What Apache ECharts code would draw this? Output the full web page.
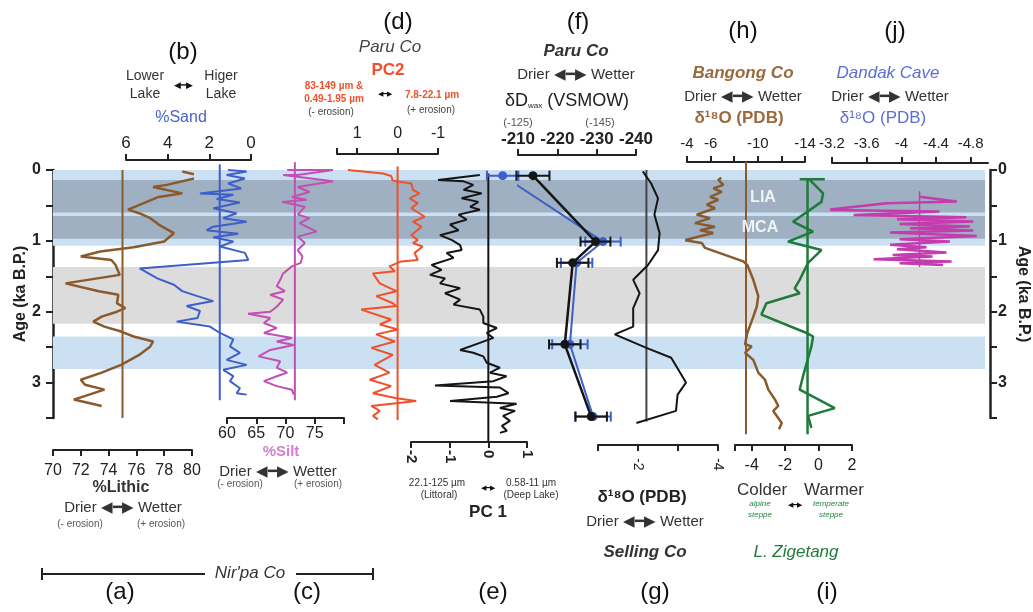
<!DOCTYPE html>
<html><head><meta charset="utf-8">
<script src="https://cdn.jsdelivr.net/npm/echarts@6/dist/echarts.min.js"></script>
<style>html,body{margin:0;padding:0;background:#fff}#c{width:1033px;height:612px}</style>
</head><body><div id="c"></div>
<script>
// ---------------- DATA ----------------
const ageTicks = [0, 0.5, 1, 1.5, 2, 2.5, 3, 3.5];
const bandLight = [[0, 1.07], [2.35, 2.81]];
const bandDark = [[0.14, 0.6], [0.65, 0.97]];
const bandGray = [[1.37, 2.17]];

// (a) %Lithic, Nir'pa Co
const lithicAge = [0.02,0.09,0.21,0.24,0.33,0.38,0.56,0.61,0.68,0.77,0.89,1.01,1.09,1.15,1.22,1.27,1.34,1.48,1.60,1.71,1.76,1.88,1.95,2.00,2.07,2.14,2.21,2.28,2.35,2.42,2.49,2.61,2.75,2.86,2.96,3.03,3.10,3.24,3.33];
const lithicVal = [79.3,80.8,78.2,77.2,79.3,77.6,75.4,76.2,77.0,77.6,78.7,78.0,75.8,73.4,72.0,74.2,74.5,74.8,70.9,73.3,74.7,74.6,75.2,74.6,73.5,72.9,73.7,74.9,75.8,77.2,77.0,76.2,74.9,73.5,72.0,72.3,73.7,71.5,73.5];
const lithicMean = 75;

// (b) %Sand
const sandAge = [0.0,0.02,0.07,0.12,0.19,0.26,0.33,0.35,0.41,0.46,0.54,0.61,0.68,0.73,0.80,0.85,0.90,0.95,1.01,1.08,1.17,1.27,1.39,1.53,1.62,1.71,1.78,1.85,1.92,1.99,2.09,2.14,2.21,2.30,2.39,2.49,2.58,2.68,2.75,2.82,2.91,2.98,3.08,3.15,3.17];
const sandVal = [1.1,0.21,1.17,0.29,1.1,0.47,2.45,0.85,1.65,0.53,1.81,0.69,1.33,0.21,1.81,2.13,0.61,1.81,0.85,1.49,0.29,0.13,5.34,4.5,3.7,3.3,2.57,1.81,3.09,2.45,2.57,3.57,1.97,1.49,0.85,1.01,0.53,1.17,0.21,1.33,0.85,1.01,0.53,0.69,0.21];
const sandMean = 1.5;

// (c) %Silt
const siltAge = [0.0,0.0,0.07,0.07,0.16,0.24,0.31,0.38,0.42,0.45,0.52,0.63,0.68,0.75,0.87,0.94,1.03,1.13,1.22,1.31,1.36,1.46,1.55,1.64,1.71,1.76,1.83,1.93,2.0,2.03,2.09,2.16,2.23,2.30,2.37,2.42,2.47,2.54,2.63,2.70,2.79,2.86,2.91,2.98,3.05,3.10,3.17];
const siltVal = [70.3,78.1,72.1,69.6,78.1,72.1,74.1,71.1,73.6,69.4,73.3,72.1,74.1,72.4,75.3,72.1,73.3,72.1,72.9,72.6,71.1,69.6,69.1,68.5,69.9,67.4,69.6,68.5,67.4,63.6,67.4,66.3,68.5,66.3,71.1,68.5,71.4,67.4,65.4,69.1,68.5,70.3,68.5,66.3,68.5,71.1,71.4];
const siltMean = 71.6;

// (d) PC2, Paru Co
const pc2Age = [0.0,0.05,0.085,0.15,0.19,0.28,0.33,0.40,0.47,0.54,0.66,0.73,0.80,0.92,0.99,1.03,1.08,1.17,1.27,1.29,1.36,1.43,1.46,1.60,1.71,1.78,1.88,1.92,1.97,2.11,2.18,2.25,2.32,2.42,2.51,2.61,2.75,2.86,2.96,3.05,3.15,3.22,3.26,3.33,3.40,3.47,3.52];
const pc2Val = [1.23,0.36,0.16,0.12,-0.34,-0.38,-0.54,-0.30,-0.50,-0.34,-0.67,-0.38,-0.59,-0.34,-0.50,-0.38,-0.62,-0.42,-0.50,-0.09,0.20,0.07,0.61,0.44,0.03,0.53,0.12,0.03,0.90,0.16,0.44,-0.01,0.53,0.07,0.65,0.12,0.57,0.20,0.69,0.16,0.61,0.03,-0.46,0.65,0.44,0.61,0.49];

// (e) PC 1
const pc1Age = [0.07,0.14,0.16,0.21,0.28,0.33,0.40,0.45,0.52,0.56,0.63,0.70,0.77,0.85,0.92,0.99,1.06,1.13,1.17,1.24,1.34,1.41,1.48,1.53,1.60,1.67,1.74,1.83,1.90,1.97,2.07,2.16,2.23,2.30,2.37,2.44,2.54,2.58,2.63,2.72,2.79,2.86,2.91,2.98,3.04,3.07,3.15,3.20,3.26,3.30,3.36,3.40,3.47,3.54,3.61,3.68,3.71];
const pc1Val = [-0.22,-1.3,-0.64,-0.39,-0.64,-0.17,-0.69,-0.26,-0.47,-0.22,-0.77,-0.56,-0.99,-0.77,-1.25,-0.94,-0.73,-0.69,-1.08,-0.90,-1.47,-1.21,-1.51,-1.12,-1.25,-0.73,-1.12,-0.73,-0.90,-0.22,-0.13,-0.13,0.22,-0.04,0.13,-0.22,-0.73,-0.39,-0.13,-0.04,0.30,0.04,0.47,0.13,-1.38,0.30,0.52,0.22,-0.99,0.73,0.30,0.69,0.38,0.56,0.35,0.48,0.30];

// (f) dD wax, Paru Co
const dDAge = [0.08, 1.01, 1.31, 2.46, 3.48];
const dDBlack = [-213.8, -229.7, -223.9, -221.9, -228.6];
const dDBlue = [-121.1, -146.6, -139.9, -138.2, -144.1];
const dDErrBlack = [4.2, 3.8, 4.0, 4.0, 4.0];
const dDErrBlue = [4.0, 4.5, 4.0, 4.5, 4.5];

// (g) d18O Selling Co
const sellAge = [0.02,0.19,0.40,0.63,0.89,1.13,1.34,1.55,1.74,1.95,2.21,2.32,2.51,2.65,3.00,3.17,3.40,3.57];
const sellVal = [-2.12,-2.33,-2.50,-2.41,-2.54,-2.50,-2.25,-1.88,-2.04,-1.88,-1.88,-1.42,-2.21,-2.83,-3.20,-2.99,-2.95,-1.96];
const sellMean = -2.21;

// (h) d18O Bangong Co
const bangAge = [0.11,0.14,0.21,0.26,0.31,0.38,0.42,0.49,0.54,0.63,0.68,0.75,0.80,0.85,0.89,0.99,1.03,1.10,1.29,1.34,1.55,1.78,1.93,2.07,2.30,2.46,2.49,2.58,2.68,2.86,2.96,3.10,3.24,3.33,3.40,3.57,3.66];
const bangVal = [-6.9,-6.65,-7.08,-6.23,-6.94,-5.95,-6.65,-5.67,-6.37,-4.82,-5.95,-4.68,-6.37,-5.10,-6.23,-3.83,-5.25,-5.53,-8.77,-9.11,-9.62,-10.04,-9.91,-9.62,-9.11,-8.92,-9.48,-8.92,-9.62,-10.04,-10.61,-10.89,-11.46,-11.74,-11.31,-12.03,-11.8];
const bangMean = -9.0;

// (i) L. Zigetang temperature
const zigAge = [0.13,0.33,0.45,0.73,0.87,1.01,1.13,1.31,1.55,1.67,1.74,1.88,2.04,2.30,2.35,2.49,2.91,3.10,3.36,3.47,3.64];
const zigVal = [-0.57,0.27,0.17,-1.53,-0.33,-1.83,0.17,-0.63,-1.13,-1.43,-1.13,-3.12,-3.42,-0.72,-0.33,-0.43,-0.93,-1.13,0.97,-0.63,-0.43];
const zigCap = [-1.13, 0.37];
const zigCapAge = 0.13;
const zigMean = -0.66;

// (j) d18O Dandak Cave
const dandAge = [0.376,0.446,0.47,0.563,0.587,0.634,0.667,0.695,0.728,0.761,0.798,0.822,0.855,0.883,0.93,0.977,1.01,1.056,1.089,1.117,1.165,1.2,1.22,1.258,1.29,1.315,1.34];
const dandVal = [-4.21,-4.64,-3.83,-3.14,-4.44,-3.45,-4.75,-3.95,-4.83,-3.98,-4.79,-4.10,-4.83,-3.87,-4.87,-3.98,-4.56,-3.87,-4.29,-3.95,-4.52,-3.90,-4.36,-3.68,-4.58,-3.98,-4.48];
const dandMean = -4.21;

// tick labels
const tkA = [70,72,74,76,78,80];
const tkB = [0,2,4,6];
const tkC = [60,65,70,75,80], lbC = [60,65,70,75];
const tkD = [1.5,1,0,-1], lbD = [1,0,-1];
const tkE = [-2,-1,0,1];
const tkF = [-210,-220,-230,-240];
const tkG = [-1,-2,-3,-4], lbG = [-2,-4];
const tkH = [-4,-6,-8,-10,-12,-14], lbH = [-4,-6,-10,-14];
const tkI = [-5,-4,-2,0,2], lbI = [-4,-2,0,2];
const tkJ = [-3.2,-3.6,-4,-4.4,-4.8];

// ---------------- CHART ----------------
const FONT = 'Liberation Sans, Arial, Helvetica, sans-serif';
const zip = (v, a) => v.map((x, i) => [x, a[i]]);
const TOP = 170, H = 248;
const C = {brown:'#8a5a2c', blue:'#3f5fc8', mag:'#c24fb3', red:'#f0502a', black:'#151515', green:'#1f7a3c', jmag:'#c43cae', gray:'#444'};

const panels = [
  {left:53, width:932},   // 0 background
  {left:53, width:139},   // a
  {left:126, width:125},  // b
  {left:227, width:117},  // c
  {left:337, width:101},  // d
  {left:411, width:116},  // e
  {left:518, width:118},  // f
  {left:598, width:120},  // g
  {left:687, width:118},  // h
  {left:735, width:117},  // i
  {left:832, width:156}   // j
];
const grid = panels.map(p => ({left:p.left, width:p.width, top:TOP, height:H, containLabel:false, outerBoundsMode:'none'}));

const lineS = {color:'#222', width:2};
function xax(g, o) {
  return {
    gridIndex:g, type:'value', splitLine:{show:false},
    axisLine:{show:true, onZero:false, lineStyle:lineS},
    axisTick:{show:true, length:6, lineStyle:lineS, customValues:o.ticks},
    axisLabel:{show:true, color:'#222', fontFamily:FONT, fontSize:o.fs||16, fontWeight:o.fw||'normal',
      margin:o.margin||8, rotate:o.rotate||0, customValues:o.labels||o.ticks},
    position:o.pos, offset:o.offset||0, min:o.min, max:o.max, inverse:!!o.inv
  };
}
const xAxis = [
  {gridIndex:0, type:'value', min:0, max:1, show:false},
  xax(1,{pos:'bottom', offset:32, min:70, max:80, ticks:tkA, margin:13, fs:16}),
  xax(2,{pos:'top', offset:10, min:0, max:6, inv:true, ticks:tkB, margin:8, fs:17}),
  xax(3,{pos:'bottom', offset:0, min:60, max:80, ticks:tkC, labels:lbC, margin:8, fs:16}),
  xax(4,{pos:'top', offset:16, min:-1, max:1.5, inv:true, ticks:tkD, labels:lbD, margin:12, fs:16}),
  xax(5,{pos:'bottom', offset:24, min:-2, max:1, ticks:tkE, margin:8, fs:15, fw:'bold', rotate:-90}),
  xax(6,{pos:'top', offset:15, min:-240, max:-210, inv:true, ticks:tkF, margin:7, fs:17, fw:'bold'}),
  xax(7,{pos:'bottom', offset:27, min:-4, max:-1, inv:true, ticks:tkG, labels:lbG, margin:13, fs:14, rotate:-90}),
  xax(8,{pos:'top', offset:8, min:-14, max:-4, inv:true, ticks:tkH, labels:lbH, margin:11, fs:15}),
  xax(9,{pos:'bottom', offset:27, min:-5, max:2, ticks:tkI, labels:lbI, margin:13, fs:16}),
  xax(10,{pos:'top', offset:7, min:-5, max:-3.2, inv:true, ticks:tkJ, margin:12, fs:15}),
  {gridIndex:6, type:'value', min:-155, max:-125, inverse:true, show:false}
];

const yBase = {type:'value', min:0, max:3.5, inverse:true, splitLine:{show:false}};
const yAxis = [
  Object.assign({}, yBase, {gridIndex:0, position:'left', offset:3,
    axisLine:{show:true, lineStyle:{color:'#222', width:2.5}},
    axisTick:{show:true, length:7, lineStyle:{color:'#222', width:2}, customValues:ageTicks},
    axisLabel:{color:'#222', fontFamily:FONT, fontSize:16, fontWeight:'bold', margin:9, customValues:[0,1,2,3]},
    name:'Age (ka B.P.)', nameLocation:'middle', nameRotate:90, nameGap:21, nameMoveOverlap:false,
    nameTextStyle:{fontFamily:FONT, fontSize:16, fontWeight:'bold', color:'#222'}}),
  Object.assign({}, yBase, {gridIndex:0, position:'right', offset:5,
    axisLine:{show:true, lineStyle:{color:'#222', width:2.5}},
    axisTick:{show:true, length:7, lineStyle:{color:'#222', width:2}, customValues:ageTicks},
    axisLabel:{color:'#222', fontFamily:FONT, fontSize:16, fontWeight:'bold', margin:8, customValues:[0,1,2,3]},
    name:'Age (ka B.P.)', nameLocation:'middle', nameRotate:-90, nameGap:25, nameMoveOverlap:false,
    nameTextStyle:{fontFamily:FONT, fontSize:16, fontWeight:'bold', color:'#222'}})
];
for (let g = 1; g <= 10; g++) yAxis.push(Object.assign({}, yBase, {gridIndex:g, show:false}));

function band(list, color) {
  return list.map(b => [{xAxis:0, yAxis:b[0], itemStyle:{color}}, {xAxis:1, yAxis:b[1]}]);
}
function L(g, data, color, w, extra) {
  return Object.assign({type:'line', xAxisIndex:g, yAxisIndex:g+1, data, symbol:'none', clip:false,
    lineStyle:{color, width:w||2}, itemStyle:{color}, z:5, animation:false, silent:true}, extra||{});
}
function vline(g, v, a0, a1, color, w) { return L(g, [[v, a0], [v, a1]], color, w || 2, {z:4}); }
function errBars(xi, yi, vals, ages, errs, color) {
  return {type:'custom', xAxisIndex:xi, yAxisIndex:yi, clip:false, z:6, animation:false, silent:true,
    data: vals.map((v, i) => [v, ages[i], errs[i]]),
    renderItem: (params, api) => {
      const v = api.value(0), a = api.value(1), e = api.value(2);
      const p1 = api.coord([v - e, a]), p2 = api.coord([v + e, a]), h = 5;
      const st = {stroke:color, lineWidth:2};
      return {type:'group', children:[
        {type:'line', shape:{x1:p1[0], y1:p1[1], x2:p2[0], y2:p2[1]}, style:st},
        {type:'line', shape:{x1:p1[0], y1:p1[1]-h, x2:p1[0], y2:p1[1]+h}, style:st},
        {type:'line', shape:{x1:p2[0], y1:p2[1]-h, x2:p2[0], y2:p2[1]+h}, style:st}
      ]};
    }};
}

const series = [
  {type:'line', xAxisIndex:0, yAxisIndex:0, data:[[0,0]], symbol:'none', lineStyle:{opacity:0}, z:0, silent:true,
   markArea:{silent:true, data:[].concat(band(bandLight, '#cbe0f2'), band(bandGray, '#dcdcdc'), band(bandDark, '#9eb0c1'))}},
  vline(1, lithicMean, 0, 3.5, C.brown, 2),
  L(1, zip(lithicVal, lithicAge), C.brown, 2.5),
  vline(2, sandMean, -0.08, 3.25, C.blue, 2),
  L(2, zip(sandVal, sandAge), C.blue, 2),
  vline(3, siltMean, -0.11, 3.25, C.mag, 2),
  L(3, zip(siltVal, siltAge), C.mag, 2),
  vline(4, 0, -0.05, 3.53, C.red, 2),
  L(4, zip(pc2Val, pc2Age), C.red, 2),
  vline(5, 0, 0.05, 3.83, C.black, 2),
  L(5, zip(pc1Val, pc1Age), C.black, 2),
  errBars(11, 7, dDBlue, dDAge, dDErrBlue, C.blue),
  L(11, zip(dDBlue, dDAge), C.blue, 2, {symbol:'circle', symbolSize:9, xAxisIndex:11, yAxisIndex:7}),
  errBars(6, 7, dDBlack, dDAge, dDErrBlack, C.black),
  L(6, zip(dDBlack, dDAge), C.black, 2.5, {symbol:'circle', symbolSize:9, z:7}),
  vline(7, sellMean, 0.0, 3.55, C.gray, 2),
  L(7, zip(sellVal, sellAge), C.black, 2),
  vline(8, bangMean, -0.12, 3.73, C.brown, 2),
  L(8, zip(bangVal, bangAge), C.brown, 2.5),
  vline(9, zigMean, zigCapAge, 3.73, C.green, 2.5),
  L(9, [[zigCap[0], zigCapAge], [zigCap[1], zigCapAge]], C.green, 2.5),
  L(9, zip(zigVal, zigAge), C.green, 2.5),
  vline(10, dandMean, 0.3, 1.37, C.jmag, 1.5),
  L(10, zip(dandVal, dandAge), C.jmag, 2.5)
];

function T(x, y, text, size, o) {
  o = o || {};
  return {type:'text', x, y, z:100, silent:true,
    style:Object.assign({text, fontFamily:FONT, fontSize:size, fill:'#333', align:'center', verticalAlign:'middle'}, o)};
}
const ARW = '\u25C0\u2501\u25B6';
const it = {fontStyle:'italic'};
const graphic = [
  T(183, 52, '(b)', 24, {fill:'#111'}), T(398, 22, '(d)', 24, {fill:'#111'}), T(578, 22, '(f)', 24, {fill:'#111'}),
  T(743, 31, '(h)', 24, {fill:'#111'}), T(895, 31, '(j)', 24, {fill:'#111'}),
  T(120, 592, '(a)', 24, {fill:'#111'}), T(307, 592, '(c)', 24, {fill:'#111'}), T(493, 592, '(e)', 24, {fill:'#111'}),
  T(655, 592, '(g)', 24, {fill:'#111'}), T(827, 592, '(i)', 24, {fill:'#111'}),
  T(145, 76, 'Lower', 14), T(145, 94, 'Lake', 14), T(183, 86, ARW, 9, {fill:'#111'}),
  T(221, 76, 'Higer', 14), T(221, 94, 'Lake', 14),
  T(181, 118, '%Sand', 16, {fill:'#4a63c8'}),
  T(390, 47, 'Paru Co', 17, Object.assign({fill:'#444'}, it)),
  T(388, 70, 'PC2', 17, {fill:'#f0502a', fontWeight:'bold'}),
  T(334, 86, '83-149 \u00B5m &', 10, {fill:'#f0502a', fontWeight:'bold'}),
  T(334, 99, '0.49-1.95 \u00B5m', 10, {fill:'#f0502a', fontWeight:'bold'}),
  T(331, 112, '(- erosion)', 10, {fill:'#444'}),
  T(385, 94, ARW, 7, {fill:'#111'}),
  T(432, 95, '7.8-22.1 \u00B5m', 10, {fill:'#f0502a', fontWeight:'bold'}),
  T(431, 110, '(+ erosion)', 10, {fill:'#444'}),
  T(576, 51, 'Paru Co', 17, {fill:'#333', fontStyle:'italic', fontWeight:'bold'}),
  T(576, 75, 'Drier ' + ARW + ' Wetter', 15),
  T(567, 101, '{a|\u03B4D}{s|wax}{a| (VSMOW)}', 18, {rich:{a:{fontSize:18, fontFamily:FONT, fill:'#222'}, s:{fontSize:8, fontFamily:FONT, fill:'#222', padding:[10,0,0,0]}}}),
  T(518, 123, '(-125)', 11, {fill:'#555'}), T(600, 123, '(-145)', 11, {fill:'#555'}),
  T(743, 73, 'Bangong Co', 17, {fill:'#9a6a3e', fontStyle:'italic', fontWeight:'bold'}),
  T(743, 97, 'Drier ' + ARW + ' Wetter', 15),
  T(739, 118, '\u03B4\u00B9\u2078O (PDB)', 17, {fill:'#9a6a3e', fontWeight:'bold'}),
  T(888, 73, 'Dandak Cave', 17, {fill:'#5a6fd0', fontStyle:'italic'}),
  T(890, 97, 'Drier ' + ARW + ' Wetter', 15),
  T(883, 118, '\u03B4\u00B9\u2078O (PDB)', 17, {fill:'#5a6fd0'}),
  T(121, 488, '%Lithic', 16, {fill:'#333', fontWeight:'bold'}),
  T(123, 508, 'Drier ' + ARW + ' Wetter', 15),
  T(80, 524, '(- erosion)', 10, {fill:'#555'}), T(161, 524, '(+ erosion)', 10, {fill:'#555'}),
  T(281, 452, '%Silt', 15, {fill:'#d37fcf', fontWeight:'bold'}),
  T(278, 472, 'Drier ' + ARW + ' Wetter', 15),
  T(240, 484, '(- erosion)', 10, {fill:'#555'}), T(318, 484, '(+ erosion)', 10, {fill:'#555'}),
  T(437, 483, '22.1-125 \u00B5m', 10, {fill:'#333'}), T(439, 495, '(Littoral)', 10, {fill:'#333'}),
  T(488, 488, ARW, 7, {fill:'#111'}),
  T(531, 483, '0.58-11 \u00B5m', 10, {fill:'#333'}), T(531, 495, '(Deep Lake)', 10, {fill:'#333'}),
  T(488, 512, 'PC 1', 17, {fill:'#222', fontWeight:'bold'}),
  T(642, 497, '\u03B4\u00B9\u2078O (PDB)', 17, {fill:'#222', fontWeight:'bold'}),
  T(645, 522, 'Drier ' + ARW + ' Wetter', 15),
  T(645, 552, 'Selling Co', 17, {fill:'#333', fontStyle:'italic', fontWeight:'bold'}),
  T(762, 490, 'Colder', 17), T(834, 490, 'Warmer', 17),
  T(760, 504, 'alpine', 8, {fill:'#1f8a3c', fontStyle:'italic'}), T(760, 515, 'steppe', 8, {fill:'#1f8a3c', fontStyle:'italic'}),
  T(795, 505, ARW, 7, {fill:'#111'}),
  T(831, 504, 'temperate', 8, {fill:'#1f8a3c', fontStyle:'italic'}), T(831, 515, 'steppe', 8, {fill:'#1f8a3c', fontStyle:'italic'}),
  T(796, 552, 'L. Zigetang', 17, {fill:'#1f7a3c', fontStyle:'italic'}),
  T(250, 573, "Nir'pa Co", 17, {fill:'#333', fontStyle:'italic'}),
  {type:'line', shape:{x1:42, y1:574, x2:205, y2:574}, style:{stroke:'#222', lineWidth:2}},
  {type:'line', shape:{x1:296, y1:574, x2:373, y2:574}, style:{stroke:'#222', lineWidth:2}},
  {type:'line', shape:{x1:42, y1:568, x2:42, y2:580}, style:{stroke:'#222', lineWidth:2}},
  {type:'line', shape:{x1:373, y1:568, x2:373, y2:580}, style:{stroke:'#222', lineWidth:2}},
  T(763, 198, 'LIA', 16, {fill:'#eef3f8', fontWeight:'bold'}),
  T(760, 228, 'MCA', 16, {fill:'#eef3f8', fontWeight:'bold'})
];

const chart = echarts.init(document.getElementById('c'), null, {renderer:'canvas'});
chart.setOption({backgroundColor:'#fff', animation:false, grid, xAxis, yAxis, series, graphic});
</script></body></html>
